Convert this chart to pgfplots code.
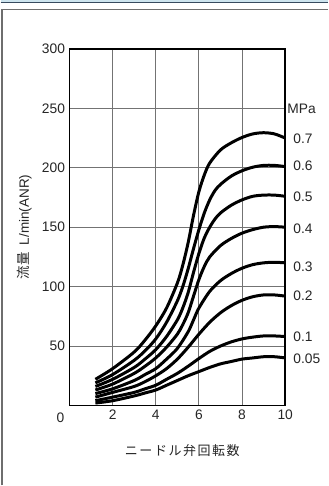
\documentclass[border=0pt]{standalone}
\usepackage{fontspec}
\setmainfont{Liberation Sans}
\newfontfamily\jp{Noto Sans CJK JP}
\newfontfamily\jpls[LetterSpace=12]{Noto Sans CJK JP}
\usepackage{pgfplots}
\pgfplotsset{compat=1.18}
\definecolor{topblue}{RGB}{205,228,238}
\definecolor{topline}{RGB}{55,75,95}
\definecolor{framegray}{RGB}{110,110,110}
\definecolor{gridgray}{RGB}{115,115,115}
\begin{document}
\begin{tikzpicture}
\fill[white] (0bp,0bp) rectangle (328bp,486bp);
\fill[topblue] (0bp,484bp) rectangle (328bp,486bp);
\draw[topline, line width=1.2bp] (0bp,483.4bp) -- (328bp,483.4bp);
\draw[framegray, line width=1.3bp] (1.5bp,0bp) -- (1.5bp,476.5bp) -- (328bp,476.5bp);
\begin{axis}[
  at={(69bp,80bp)}, anchor=south west,
  scale only axis, width=216bp, height=357bp,
  xmin=0, xmax=10, ymin=0, ymax=300,
  xtick={2,4,6,8,10}, ytick={50,100,...,300},
  major tick length=0pt,
  grid=major,
  major grid style={gridgray, line width=0.9bp},
  axis line style={black, line width=1.8bp},
  /pgf/number format/assume math mode=true,
  tick label style={font=\fontsize{13.8bp}{16bp}\selectfont, text=black!85},
  xticklabel style={yshift=-1bp},
  yticklabel style={xshift=-1bp},
  xlabel={\jpls ニードル弁回転数},
  xlabel style={at={(axis description cs:0.523,-0.126)}, anchor=center, font=\fontsize{13bp}{16bp}\selectfont, text=black!85},
  ylabel={{\jp 流量}\hspace{7bp}L/min(ANR)},
  ylabel style={at={(axis description cs:-0.208,0.501)}, anchor=center, font=\fontsize{13.5bp}{16bp}\selectfont, text=black!85},
  clip=false,
]
% 0.7 MPa
\addplot[black, line width=3bp, smooth] coordinates {(1.2,22) (2,31) (3,45) (3.5,55) (4,67) (4.5,82) (5,103) (5.25,118) (5.5,137) (5.75,160) (6,180) (6.25,194) (6.5,204) (7,215) (7.5,221) (8,225.5) (8.5,228.5) (9,229.5) (9.5,228.5) (10,225)};
% 0.6
\addplot[black, line width=3bp, smooth] coordinates {(1.2,19) (2,26) (3,38) (3.5,46) (4,56) (4.5,70) (5,88) (5.25,100) (5.5,115) (5.75,132) (6,148) (6.25,162) (6.5,173) (6.75,181) (7,186) (7.5,193) (8,197.5) (8.5,200.5) (9,202) (9.5,202) (10,201)};
% 0.5
\addplot[black, line width=3bp, smooth] coordinates {(1.2,16) (2,22) (3,32) (3.5,39) (4,47) (4.5,58) (5,72) (5.25,82) (5.5,95) (5.75,112) (6,128) (6.25,141) (6.5,150) (6.75,157) (7,162) (7.5,168.5) (8,173) (8.5,176) (9,177) (9.5,177) (10,176)};
% 0.4
\addplot[black, line width=3bp, smooth] coordinates {(1.2,13) (2,18) (3,27) (3.5,33) (4,40) (4.5,49) (5,60) (5.25,68) (5.5,78) (5.75,92) (6,106) (6.25,117) (6.5,125) (7,134.5) (7.5,140.5) (8,145) (8.5,148) (9,150) (9.5,150.5) (10,150)};
% 0.3
\addplot[black, line width=3bp, smooth] coordinates {(1.2,10) (2,14) (3,21) (3.5,26) (4,31) (4.5,39) (5,48) (5.5,62) (5.75,72) (6,82) (6.5,96) (7,105) (7.5,111) (8,115.5) (8.5,118.5) (9,120) (9.5,120.5) (10,120)};
% 0.2
\addplot[black, line width=3bp, smooth] coordinates {(1.2,7) (2,11) (3,16) (3.5,20) (4,25) (4.5,31) (5,39) (5.5,49) (6,60) (6.5,70) (7,78) (7.5,84) (8,88.5) (8.5,91.5) (9,93) (9.5,93) (10,92)};
% 0.1
\addplot[black, line width=3bp, smooth] coordinates {(1.2,4) (2,7) (3,11) (3.5,14) (4,17) (4.5,22) (5,27) (5.5,33) (6,39.5) (6.5,45.5) (7,50) (7.5,53.5) (8,56) (8.5,57.5) (9,58.5) (9.5,58.5) (10,58)};
% 0.05
\addplot[black, line width=3bp, smooth] coordinates {(1.2,2) (2,4) (3,8) (3.5,10.5) (4,13) (4.5,17) (5,21) (5.5,25) (6,28.5) (6.5,32) (7,35) (7.5,37) (8,39) (8.5,40) (9,41) (9.5,41) (10,40)};
\begin{scope}[every node/.style={anchor=west, inner sep=0pt, font=\fontsize{13.8bp}{16bp}\selectfont, text=black!85}]
\node at (axis cs:10,249.6) [xshift=2bp] {MPa};
\node at (axis cs:10,224) [xshift=8bp] {0.7};
\node at (axis cs:10,201.7) [xshift=8bp] {0.6};
\node at (axis cs:10,175.6) [xshift=8bp] {0.5};
\node at (axis cs:10,148.7) [xshift=8bp] {0.4};
\node at (axis cs:10,116.8) [xshift=8bp] {0.3};
\node at (axis cs:10,92.4) [xshift=8bp] {0.2};
\node at (axis cs:10,58) [xshift=8bp] {0.1};
\node at (axis cs:10,39.5) [xshift=8bp] {0.05};
\end{scope}
\node[font=\fontsize{13.8bp}{16bp}\selectfont, text=black!85, inner sep=0pt] at (axis cs:0,0) [xshift=-9bp, yshift=-12bp] {0};
\end{axis}
\useasboundingbox (0bp,0bp) rectangle (328bp,486bp);
\end{tikzpicture}
\end{document}
